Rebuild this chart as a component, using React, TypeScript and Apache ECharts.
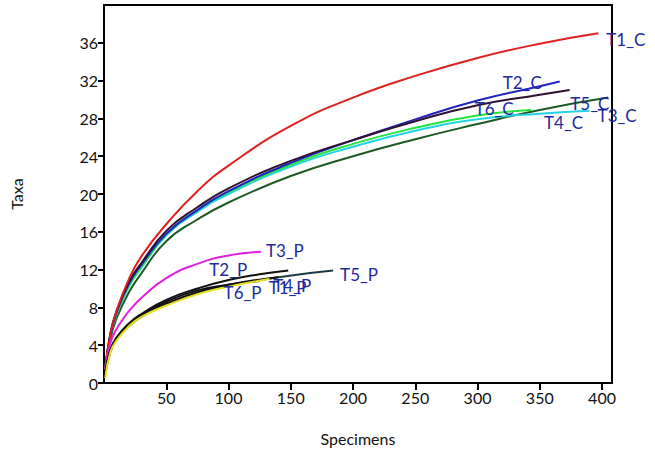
import React, { useEffect, useRef } from "react";
import * as echarts from "echarts";

// ---- data ----
const t1cX = [1, 5, 10, 20, 30, 50, 75, 100, 150, 200, 250, 300, 350, 397];
const t1cY = [1.5, 5, 7.6, 11, 13.4, 16.8, 20.3, 23.0, 27.2, 30.2, 32.5, 34.4, 35.9, 37.0];
const t2cX = [1, 5, 10, 20, 30, 50, 75, 100, 150, 200, 250, 300, 350, 366];
const t2cY = [1.5, 5, 7.4, 10.5, 12.5, 15.8, 18.3, 20.3, 23.3, 25.7, 27.9, 29.9, 31.4, 31.9];
const t3cX = [1, 5, 10, 20, 30, 50, 75, 100, 150, 200, 250, 300, 350, 390];
const t3cY = [1.5, 5, 7.2, 10.2, 12.2, 15.6, 18.1, 20.0, 22.9, 25.0, 26.7, 27.9, 28.5, 28.8];
const t4cX = [1, 5, 10, 20, 30, 50, 75, 100, 150, 200, 250, 300, 343];
const t4cY = [1.5, 5, 7.3, 10.3, 12.3, 15.7, 18.3, 20.2, 23.1, 25.3, 27.0, 28.3, 28.9];
const t5cX = [1, 5, 10, 20, 30, 50, 75, 100, 150, 200, 250, 300, 350, 405];
const t5cY = [1.2, 4.6, 6.8, 9.6, 11.6, 15.0, 17.3, 19.1, 21.9, 24.0, 25.8, 27.4, 28.9, 30.2];
const t6cX = [1, 5, 10, 20, 30, 50, 75, 100, 150, 200, 250, 300, 350, 374];
const t6cY = [1.5, 5.2, 7.6, 10.7, 12.7, 16.1, 18.6, 20.6, 23.5, 25.7, 27.7, 29.4, 30.5, 31.0];

const t1pX = [1, 5, 10, 20, 30, 50, 75, 100, 125];
const t1pY = [1, 3.4, 4.7, 6.2, 7.2, 8.6, 9.8, 10.4, 10.8];
const t2pX = [1, 5, 10, 20, 30, 50, 75, 100, 125, 148];
const t2pY = [1, 3.5, 4.8, 6.3, 7.3, 8.8, 10.0, 10.9, 11.5, 11.9];
const t3pX = [1, 5, 10, 15, 20, 30, 50, 75, 100, 126];
const t3pY = [1.5, 4.2, 5.7, 6.7, 7.6, 9.0, 11.1, 12.6, 13.5, 13.9];
const t4pX = [1, 5, 10, 20, 30, 50, 75, 100, 140];
const t4pY = [1, 3.3, 4.6, 6.1, 7.1, 8.4, 9.6, 10.4, 11.2];
const t5pX = [1, 5, 10, 20, 30, 50, 75, 100, 140, 184];
const t5pY = [1, 3.3, 4.6, 6.0, 7.0, 8.3, 9.5, 10.3, 11.2, 11.9];
const t6pX = [1, 5, 10, 20, 30, 50, 75, 100, 133];
const t6pY = [0.5, 3.2, 4.5, 6.0, 7.0, 8.2, 9.4, 10.2, 11.0];

const xTicks = [50, 100, 150, 200, 250, 300, 350, 400];
const yTicks = [0, 4, 8, 12, 16, 20, 24, 28, 32, 36];

const FONT = "Lato, 'Open Sans', sans-serif";
const LABEL_COLOR = "#1c2a9e";

const zip = (xs: number[], ys: number[]) => xs.map((x, i) => [x, ys[i]]);

const seriesDefs = [
  { name: "T5_C", x: t5cX, y: t5cY, color: "#1c5a22", offset: [-46, 6] },
  { name: "T3_C", x: t3cX, y: t3cY, color: "#22d4e4", offset: [0, 5] },
  { name: "T4_C", x: t4cX, y: t4cY, color: "#22e43c", offset: [5, 13] },
  { name: "T2_C", x: t2cX, y: t2cY, color: "#2222c0", offset: [-65, 1] },
  { name: "T6_C", x: t6cX, y: t6cY, color: "#301030", offset: [-103, 18] },
  { name: "T1_C", x: t1cX, y: t1cY, color: "#e02020", offset: [0, 6] },
  { name: "T3_P", x: t3pX, y: t3pY, color: "#e020e0", offset: [-3, -1] },
  { name: "T5_P", x: t5pX, y: t5pY, color: "#1a3c44", offset: [-1, 4] },
  { name: "T4_P", x: t4pX, y: t4pY, color: "#111111", offset: [-13, 8] },
  { name: "T1_P", x: t1pX, y: t1pY, color: "#111111", offset: [1, 7] },
  { name: "T2_P", x: t2pX, y: t2pY, color: "#111111", offset: [-87, -1] },
  { name: "T6_P", x: t6pX, y: t6pY, color: "#e6e020", offset: [-54, 13] },
];

export default function App() {
  const ref = useRef<HTMLDivElement>(null);
  useEffect(() => {
    if (!ref.current) return;
    const chart = echarts.init(ref.current, null, { renderer: "svg" });
    chart.setOption({
      animation: false,
      backgroundColor: "#ffffff",
      grid: {
        left: 102,
        right: 43,
        top: 5,
        bottom: 75,
        show: true,
        borderColor: "#000",
        borderWidth: 2,
      },
      xAxis: {
        type: "value",
        min: 0,
        max: 408,
        interval: 50,
        name: "Specimens",
        nameLocation: "middle",
        nameGap: 47,
        nameTextStyle: { fontFamily: FONT, fontSize: 16, color: "#111" },
        axisLine: { show: true, lineStyle: { color: "#000", width: 2 } },
        axisTick: { show: true, length: 7, customValues: xTicks, lineStyle: { color: "#000", width: 2 } },
        axisLabel: {
          customValues: xTicks,
          fontFamily: FONT,
          fontSize: 16,
          color: "#111",
          margin: 6,
        },
        splitLine: { show: false },
      },
      yAxis: {
        type: "value",
        min: 0,
        max: 40,
        interval: 4,
        name: "Taxa",
        nameLocation: "middle",
        nameGap: 80,
        nameRotate: 90,
        nameTextStyle: { fontFamily: FONT, fontSize: 16, color: "#111" },
        axisLine: { show: true, lineStyle: { color: "#000", width: 2 } },
        axisTick: { show: true, length: 6, customValues: yTicks, lineStyle: { color: "#000", width: 2 } },
        axisLabel: {
          customValues: yTicks,
          fontFamily: FONT,
          fontSize: 16,
          color: "#111",
          margin: 6,
        },
        splitLine: { show: false },
      },
      series: seriesDefs.map((s) => ({
        name: s.name,
        type: "line",
        data: zip(s.x, s.y),
        smooth: 0.5,
        showSymbol: false,
        symbol: "none",
        lineStyle: { color: s.color, width: 2 },
        itemStyle: { color: s.color },
        endLabel: {
          show: true,
          formatter: s.name,
          color: LABEL_COLOR,
          fontFamily: FONT,
          fontSize: 17,
          offset: s.offset,
        },
        emphasis: { disabled: true },
      })),
    });
    return () => chart.dispose();
  }, []);
  return (
    <div
      ref={ref}
      style={{ position: "fixed", left: 0, top: 0, width: 655, height: 458 }}
    />
  );
}
